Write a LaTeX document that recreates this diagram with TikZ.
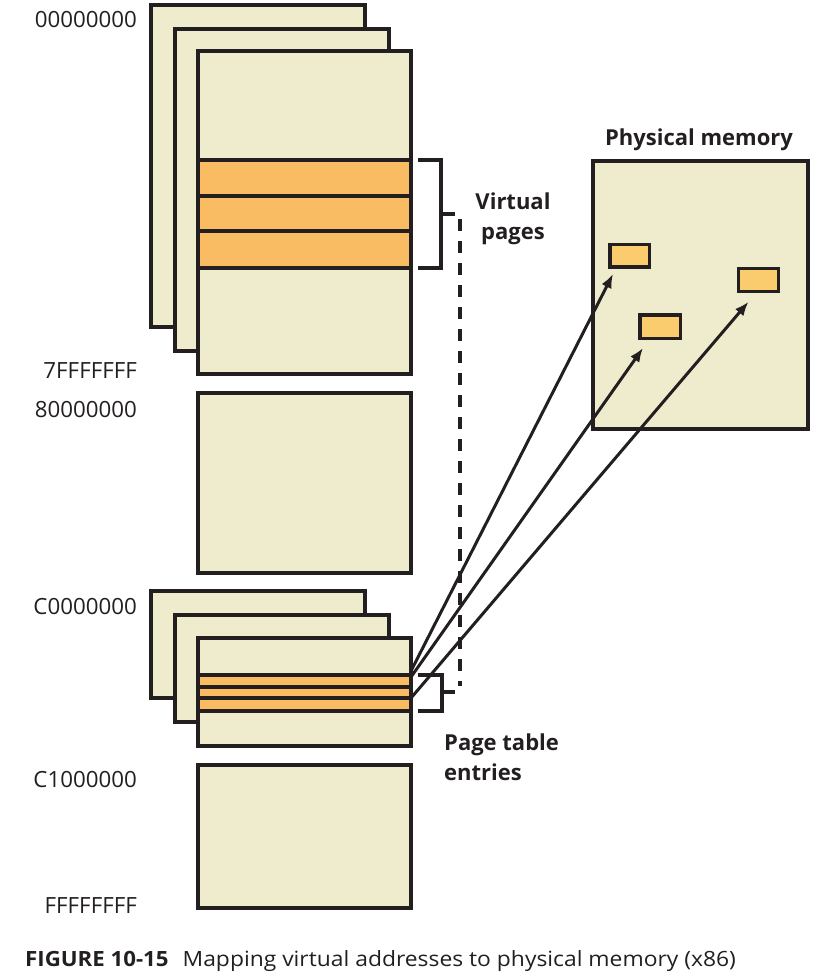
\documentclass[tikz,border=0pt]{standalone}
\usepackage{fontspec}
\setmainfont{Open Sans}
\usetikzlibrary{arrows.meta,calc}
\definecolor{ink}{RGB}{35,31,32}
\definecolor{paper}{RGB}{239,236,206}
\definecolor{stripe}{RGB}{249,188,98}
\definecolor{frame}{RGB}{250,204,110}
\begin{document}
\begin{tikzpicture}[x=1pt,y=-1pt,
 box/.style={draw=ink,line width=4pt,fill=paper,inner sep=0pt,outer sep=0pt,anchor=north west},
 band/.style={box,fill=stripe},
 frm/.style={draw=ink,line width=3.5pt,fill=frame,inner sep=0pt,outer sep=0pt,anchor=north west},
 addr/.style={anchor=base east,inner sep=0pt,font=\fontsize{22.3}{26}\selectfont,text=ink},
 tag/.style={inner sep=0pt,font=\bfseries\fontsize{22}{30}\selectfont,text=ink},
 link/.style={draw=ink,line width=3pt,-{Latex[length=14pt,width=11pt]}},
 brace/.style={draw=ink,line width=4pt},
 dash line/.style={draw=ink,line width=4pt,dash pattern=on 12pt off 10pt}
]
\useasboundingbox (0,0) rectangle (822,978);
% top stack
\node[box,minimum width=214.5pt,minimum height=322pt] (tA) at (150.5,5) {};
\node[box,minimum width=214pt,minimum height=322pt] (tB) at (174.5,29) {};
\node[box,minimum width=213.5pt,minimum height=323pt] (tC) at (197.5,51) {};
\node[band,minimum width=213.5pt,minimum height=36pt] (vp1) at (197.5,160) {};
\node[band,minimum width=213.5pt,minimum height=35pt] (vp2) at (197.5,196) {};
\node[band,minimum width=213.5pt,minimum height=37pt] (vp3) at (197.5,231) {};
% middle
\node[box,minimum width=213.5pt,minimum height=180pt] (mid) at (197.5,393) {};
% bottom stack
\node[box,minimum width=214.5pt,minimum height=107pt] (bA) at (150.5,591) {};
\node[box,minimum width=214pt,minimum height=107pt] (bB) at (174.5,615) {};
\node[box,minimum width=213.5pt,minimum height=108pt] (bC) at (197.5,638) {};
\node[band,minimum width=213.5pt,minimum height=12pt] (pte1) at (197.5,675) {};
\node[band,minimum width=213.5pt,minimum height=11pt] (pte2) at (197.5,687) {};
\node[band,minimum width=213.5pt,minimum height=13pt] (pte3) at (197.5,698) {};
\node[box,minimum width=213.5pt,minimum height=143pt] (low) at (197.5,765) {};
% addresses
\node[addr] (a0) at (137,27) {00000000};
\node[addr] (a1) at (137,378) {7FFFFFFF};
\node[addr] (a2) at (137,417) {80000000};
\node[addr] (a3) at (137,614) {C0000000};
\node[addr] (a4) at (137,787) {C1000000};
\node[addr] (a5) at (137,913) {FFFFFFFF};
% physical memory
\node[box,minimum width=215.5pt,minimum height=268.5pt] (pm) at (592.5,160.5) {};
\node[tag,anchor=base] (pmt) at (699,145) {Physical memory};
\node[frm,minimum width=39.5pt,minimum height=22.5pt] (p1) at (610,244.5) {};
\node[frm,minimum width=40.5pt,minimum height=23.5pt] (p2) at (640,315) {};
\node[frm,minimum width=40pt,minimum height=23pt] (p3) at (738.5,268.3) {};
% brackets
\draw[brace] ($(vp1.north east)+(7,0)$) -- ++(23,0) |- ($(vp3.south east)+(7,0)$);
\coordinate (vt) at (441,214);
\draw[brace] (vt) -- ++(14,0);
\draw[brace] ($(pte1.north east)+(7,0)$) -- ++(24,0) |- ($(pte3.south east)+(7,0)$);
\coordinate (pt) at (442,692);
\draw[brace] (pt) -- ++(13,0);
\coordinate (dtop) at (460,219);
\coordinate (dbot) at (460,686);
\draw[dash line] (dtop) -- (dbot);
% labels
\node[tag,anchor=north,align=center] (vl) at (513,193) {Virtual\\pages};
\node[tag,anchor=north west,align=left] (pl) at (444,734) {Page table\\entries};
% arrows
\draw[link] ($(pte1.north east)+(0,-4)$) -- ($(p1.south west)+(3,7)$);
\draw[link] ($(pte1.north east)+(0,2)$) -- ($(p2.south west)+(3,9.5)$);
\draw[link] (pte2.south east) -- ($(p3.south west)+(10,10.5)$);
% caption
\node[anchor=base west,inner sep=0pt,text=ink,font=\fontsize{21}{24}\selectfont] (cap) at (25,966) {\scalebox{1.06}[1]{\textbf{FIGURE 10-15}}\hspace{14pt}\scalebox{1.088}[1]{Mapping virtual addresses to physical memory (x86)}};
\end{tikzpicture}
\end{document}
